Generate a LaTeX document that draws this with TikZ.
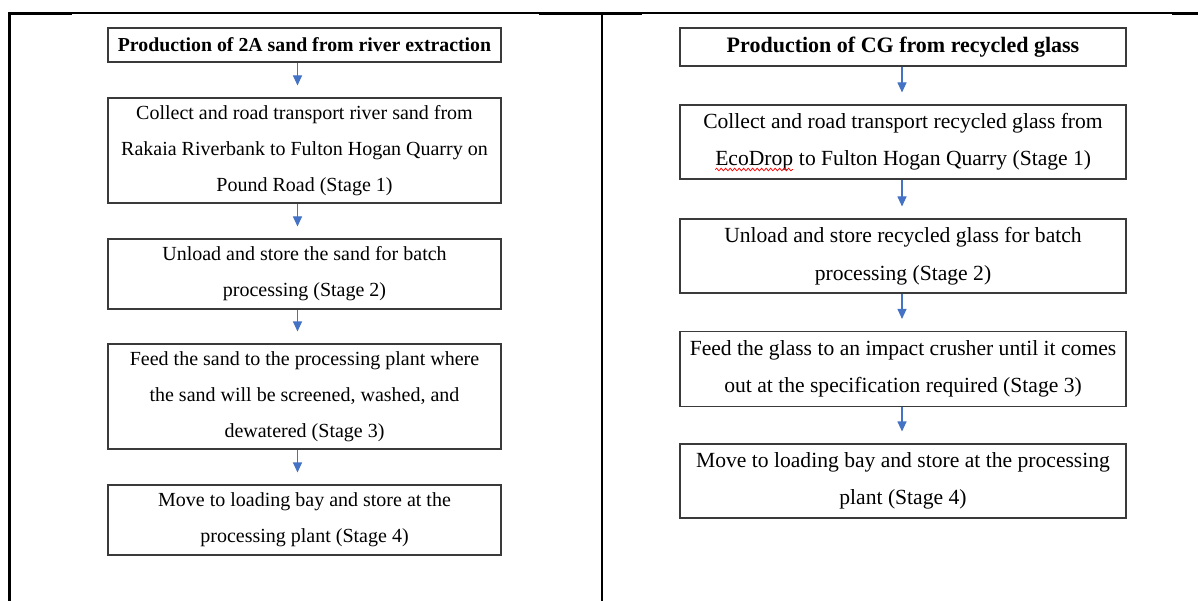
\documentclass[tikz,border=0pt]{standalone}
\usepackage{fontspec}
\setmainfont{Liberation Serif}
\usetikzlibrary{arrows.meta,decorations.pathmorphing}
\definecolor{arrowblue}{HTML}{4472C4}
\definecolor{boxline}{HTML}{3A3A3A}
\newcommand\wavyword[1]{\tikz[baseline=(w.base),x=1pt,y=1pt]{\node[rectangle,inner sep=0pt,outer sep=0pt,draw=none,minimum width=0pt,minimum height=0pt] (w) {#1};\draw[red,line width=0.75pt,decorate,decoration={snake,amplitude=1.3pt,segment length=4.5pt}] ([yshift=-4pt]w.base west) -- ([yshift=-4pt]w.base east);}}
\begin{document}
\begin{tikzpicture}[x=1pt,y=-1pt,
  lbox/.style={draw=boxline, line width=1.1pt, align=center, inner sep=0pt,
    minimum width=393pt, font=\fontsize{20}{36}\selectfont},
  rbox/.style={draw=boxline, line width=1.1pt, align=center, inner sep=0pt,
    minimum width=446pt, font=\fontsize{21.6}{37.5}\selectfont},
  flow/.style={draw=arrowblue, line width=1.1pt, -{Triangle[width=9pt,length=10pt]}, shorten >=12pt},
  rule/.style={line width=2.4pt, black}]
\useasboundingbox (0,0) rectangle (1198,601);
% table rules
\draw[line width=1.3pt] (8,13) -- (1198,13);
\draw[rule] (8,13.5) -- (72,13.5);
\draw[rule] (539,13.5) -- (642,13.5);
\draw[rule] (1172,13.5) -- (1198,13.5);
\draw[rule] (9.3,12.5) -- (9.3,601);
\draw[rule] (602,12.5) -- (602,601);
% left column
\node[lbox, minimum height=34pt, font=\fontsize{19.8}{36}\selectfont\bfseries] (L1) at (304.5,45) {Production of 2A sand from river extraction};
\node[lbox, minimum height=105pt] (L2) at (304.5,150.5) {Collect and road transport river sand from\\Rakaia Riverbank to Fulton Hogan Quarry on\\Pound Road (Stage 1)};
\node[lbox, minimum height=70pt] (L3) at (304.5,274) {Unload and store the sand for batch\\processing (Stage 2)};
\node[lbox, minimum height=105pt] (L4) at (304.5,396.5) {Feed the sand to the processing plant where\\the sand will be screened, washed, and\\dewatered (Stage 3)};
\node[lbox, minimum height=70pt] (L5) at (304.5,520) {Move to loading bay and store at the\\processing plant (Stage 4)};
% right column
\node[rbox, minimum height=38pt, font=\fontsize{22}{37.5}\selectfont\bfseries] (R1) at (903,47) {Production of CG from recycled glass};
\node[rbox, minimum height=74pt] (R2) at (903,142) {Collect and road transport recycled glass from\\\wavyword{EcoDrop} to Fulton Hogan Quarry (Stage 1)};
\node[rbox, minimum height=74pt] (R3) at (903,256) {Unload and store recycled glass for batch\\processing (Stage 2)};
\node[rbox, minimum height=75pt] (R4) at (903,369) {Feed the glass to an impact crusher until it comes\\out at the specification required (Stage 3)};
\node[rbox, minimum height=74pt] (R5) at (903,481) {Move to loading bay and store at the processing\\plant (Stage 4)};
% arrows
\foreach \a/\b in {L1/L2,L2/L3,L3/L4,L4/L5}
  \draw[flow] ([xshift=-7pt]\a.south) -- ([xshift=-7pt]\b.north);
\foreach \a/\b in {R1/R2,R2/R3,R3/R4,R4/R5}
  \draw[flow] ([xshift=-1pt]\a.south) -- ([xshift=-1pt]\b.north);
\end{tikzpicture}
\end{document}
